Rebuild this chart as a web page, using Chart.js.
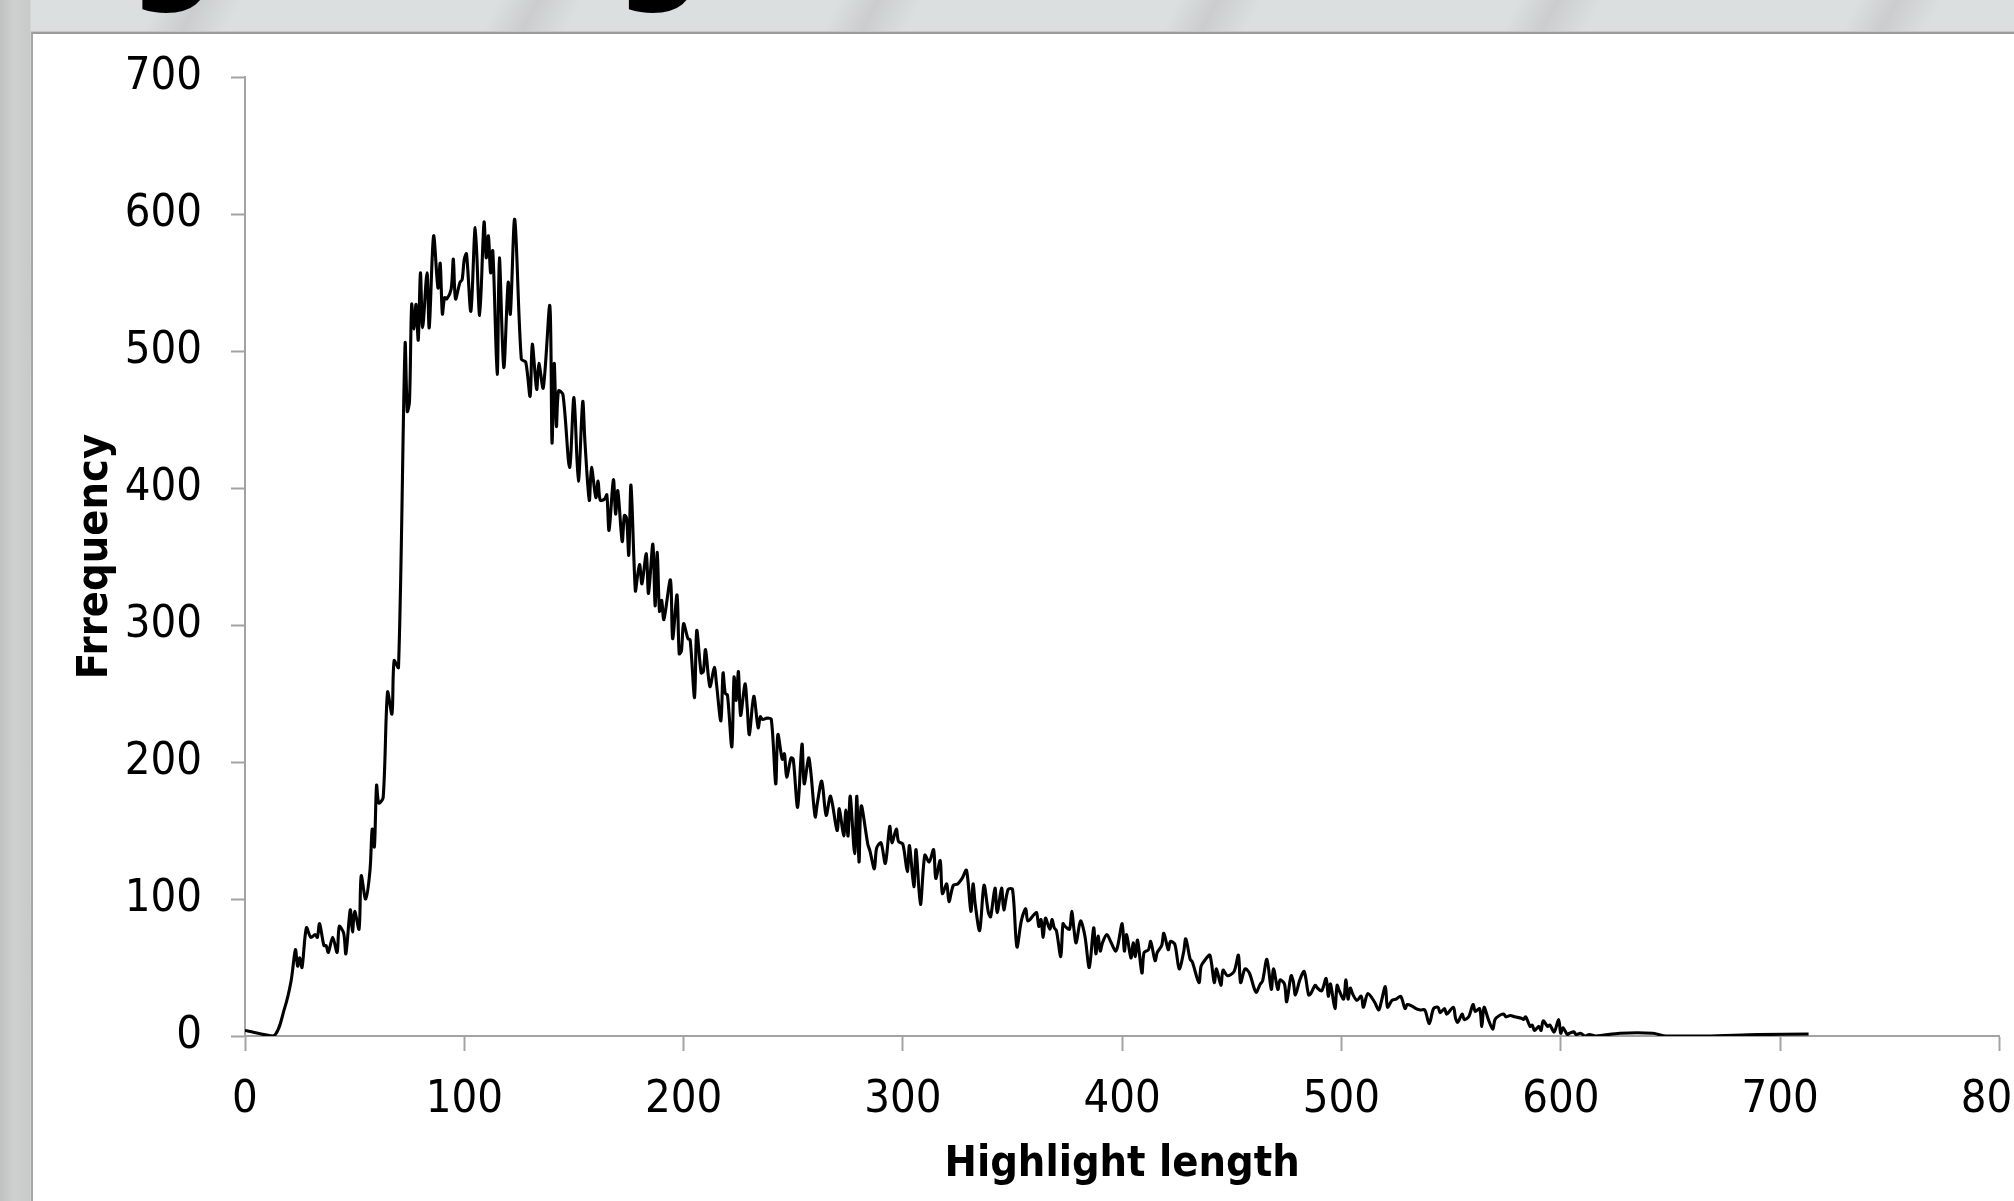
<!DOCTYPE html>
<html>
<head>
<meta charset="utf-8">
<title>Highlight length</title>
<script src="https://cdn.jsdelivr.net/npm/chart.js@4.4.0/dist/chart.umd.min.js"></script>
<style>
    html, body {
        margin: 0;
        padding: 0;
    }
    body {
        position: relative;
        width: 2014px;
        height: 1201px;
        overflow: hidden;
        background-color: #dcdfdf;
        background-image:
            linear-gradient(to right, #bfc0c0 0px, #cfd0d0 14px, #c8c9c9 30px, rgba(0,0,0,0) 31px),
            repeating-linear-gradient(118deg, rgba(0,0,0,0) 0px, rgba(0,0,0,0) 140px, rgba(0,0,0,0.08) 175px, rgba(0,0,0,0) 215px, rgba(0,0,0,0) 300px);
    }
    .slide-title {
        position: absolute;
        left: -273px;
        top: -116px;
        font: bold 122px/1 'DejaVu Sans', sans-serif;
        color: #000;
        white-space: nowrap;
    }
    .panel {
        position: absolute;
        left: 31px;
        top: 32px;
        right: 0;
        bottom: 0;
        background: #fff;
        border-top: 2px solid #9c9c9c;
        border-left: 2px solid #a6a6a6;
        box-shadow: 0 -1px 0 #c6c6c6;
    }
    #chart {
        position: absolute;
        left: 0;
        top: 0;
        width: 2060px;
        height: 1201px;
    }
</style>
</head>
<body>
<div class="slide-title">Highlight length</div>
<div class="panel"></div>
<canvas id="chart" width="2060" height="1201"></canvas>

<script>
(function () {
    'use strict';

    // --- Data ---
    const xTicks = [0, 100, 200, 300, 400, 500, 600, 700, 800];
    const yTicks = [0, 100, 200, 300, 400, 500, 600, 700];

    const lengths = [
        0, 13, 18, 21, 23, 24, 25, 26, 28, 30, 32, 33, 34, 36, 37, 38, 40, 42, 43, 45,
        46, 48, 49, 50, 52, 53, 55, 57, 58, 59, 60, 61, 63, 65, 67, 68, 70, 73, 74, 75,
        76, 77, 78, 79, 80, 81, 83, 84, 86, 88, 89, 90, 91, 92, 94, 95, 96, 98, 99, 100,
        101, 103, 105, 107, 109, 110, 111, 112, 113, 115, 116, 118, 120, 121, 123, 126, 128, 130, 131, 133,
        134, 136, 139, 140, 141, 142, 143, 145, 148, 150, 152, 154, 155, 157, 158, 160, 161, 162, 164, 165,
        166, 168, 169, 170, 172, 173, 174, 175, 176, 178, 179, 180, 181, 183, 184, 186, 187, 188, 189, 190,
        191, 194, 195, 197, 198, 199, 200, 202, 203, 205, 206, 208, 209, 210, 212, 214, 215, 217, 218, 219,
        220, 222, 223, 224, 225, 226, 228, 229, 230, 232, 234, 235, 236, 238, 240, 242, 243, 245, 246, 247,
        249, 250, 252, 254, 255, 257, 258, 260, 261, 263, 265, 267, 270, 271, 273, 274, 275, 276, 278, 279,
        280, 281, 284, 285, 287, 288, 290, 292, 294, 295, 297, 298, 300, 302, 303, 305, 306, 308, 310, 312,
        314, 315, 317, 318, 320, 321, 323, 325, 327, 329, 331, 332, 333, 335, 337, 339, 340, 342, 343, 345,
        346, 348, 350, 352, 354, 356, 357, 360, 361, 362, 363, 364, 365, 367, 368, 369, 370, 372, 373, 374,
        376, 377, 378, 379, 381, 383, 385, 387, 388, 389, 390, 391, 393, 395, 397, 398, 400, 401, 402, 404,
        405, 406, 407, 409, 410, 412, 413, 415, 416, 418, 419, 421, 422, 424, 426, 428, 429, 431, 432, 435,
        436, 438, 440, 442, 443, 445, 446, 448, 451, 453, 454, 456, 458, 461, 463, 464, 466, 468, 469, 471,
        472, 474, 475, 477, 478, 479, 481, 483, 485, 486, 488, 489, 491, 493, 494, 495, 497, 498, 499, 501,
        502, 503, 504, 505, 507, 509, 510, 512, 515, 517, 518, 520, 521, 523, 525, 527, 529, 530, 532, 534,
        536, 538, 540, 542, 544, 545, 547, 548, 551, 552, 553, 555, 556, 558, 560, 561, 563, 564, 565, 567,
        569, 570, 572, 574, 575, 577, 579, 582, 583, 584, 586, 587, 588, 590, 591, 592, 594, 595, 597, 599,
        600, 601, 603, 604, 606, 607, 609, 611, 613, 616, 627, 642, 648, 666, 690, 713
    ];

    const frequency = [
        4, 0, 20, 40, 63, 51, 57, 50, 79, 72, 74, 72, 82, 66, 66, 61, 72, 61, 80, 75,
        60, 92, 76, 91, 78, 117, 100, 121, 151, 138, 183, 170, 174, 251, 235, 274, 269, 505, 456, 463,
        534, 516, 534, 508, 557, 517, 557, 517, 584, 546, 564, 527, 539, 538, 545, 567, 538, 550, 552, 567,
        571, 529, 590, 526, 594, 568, 584, 557, 573, 483, 568, 488, 550, 527, 596, 494, 492, 467, 505, 472,
        491, 473, 533, 433, 491, 445, 471, 468, 415, 466, 405, 463, 434, 391, 415, 393, 405, 391, 392, 395,
        369, 406, 381, 398, 361, 380, 378, 351, 402, 325, 336, 344, 330, 352, 323, 359, 314, 353, 310, 318,
        304, 333, 290, 322, 279, 281, 301, 290, 289, 247, 296, 265, 266, 282, 255, 269, 257, 230, 265, 250,
        249, 211, 262, 245, 266, 234, 257, 240, 220, 248, 225, 233, 231, 232, 231, 184, 220, 202, 206, 189,
        203, 202, 167, 213, 184, 203, 193, 160, 170, 186, 161, 175, 150, 166, 146, 165, 146, 175, 133, 175,
        127, 168, 140, 135, 122, 137, 141, 126, 153, 141, 151, 142, 140, 120, 139, 109, 136, 96, 132, 127,
        136, 115, 128, 104, 111, 98, 110, 111, 115, 121, 91, 111, 96, 77, 110, 90, 87, 108, 90, 108,
        92, 107, 107, 65, 84, 93, 84, 89, 90, 80, 85, 72, 86, 78, 85, 79, 77, 58, 82, 80,
        78, 91, 78, 68, 84, 73, 50, 79, 60, 73, 62, 68, 74, 68, 62, 66, 82, 62, 74, 57,
        68, 58, 70, 46, 61, 63, 69, 55, 61, 66, 75, 63, 69, 67, 49, 61, 71, 56, 54, 39,
        51, 56, 59, 39, 49, 37, 48, 44, 47, 59, 39, 49, 46, 32, 38, 40, 56, 34, 49, 34,
        41, 38, 25, 44, 40, 30, 41, 47, 30, 31, 37, 35, 33, 42, 29, 38, 20, 37, 33, 27,
        41, 27, 35, 31, 26, 29, 21, 31, 25, 19, 24, 36, 21, 26, 27, 29, 20, 23, 22, 20,
        19, 19, 9, 20, 21, 17, 20, 16, 21, 13, 10, 16, 12, 14, 23, 18, 20, 7, 21, 12,
        5, 12, 15, 16, 14, 15, 14, 13, 12, 14, 7, 8, 4, 7, 4, 11, 7, 8, 3, 12,
        2, 6, 1, 2, 3, 1, 2, 0, 1, 0, 2, 2, 0, 0, 1, 1.5
    ];

    // --- Styles ---
    const AXIS_GRAY = '#a3a3a3';
    const TICK_FONT = { family: "'DejaVu Sans Condensed', 'DejaVu Sans', sans-serif", size: 45 };
    const TITLE_FONT = { family: "'DejaVu Sans Condensed', 'DejaVu Sans', sans-serif", size: 43, weight: 'bold', lineHeight: 1.2 };

    const points = lengths.map((len, i) => ({ x: len, y: frequency[i] }));

    const ctx = document.getElementById('chart');
    new Chart(ctx, {
        type: 'line',
        data: {
            datasets: [{
                label: 'Frrequency',
                data: points,
                borderColor: '#000',
                borderWidth: 3.1,
                pointRadius: 0,
                tension: 0.3,
                fill: false
            }]
        },
        options: {
            responsive: false,
            animation: false,
            devicePixelRatio: 1,
            layout: { padding: { top: 77, right: 57, bottom: 0, left: 0 } },
            plugins: {
                legend: { display: false },
                tooltip: { enabled: false }
            },
            scales: {
                x: {
                    type: 'linear',
                    min: xTicks[0],
                    max: xTicks[xTicks.length - 1],
                    afterBuildTicks: s => { s.ticks = xTicks.map(v => ({ value: v })); },
                    afterFit: s => { s.height = 165; },
                    grid: { drawOnChartArea: false, drawTicks: true, tickLength: 15, tickColor: AXIS_GRAY, tickWidth: 2 },
                    border: { display: true, color: AXIS_GRAY, width: 2 },
                    ticks: { color: '#000', font: TICK_FONT, padding: 22, maxRotation: 0, autoSkip: false },
                    title: { display: true, text: 'Highlight length', color: '#000', font: TITLE_FONT, padding: { top: 0, bottom: 10 } }
                },
                y: {
                    type: 'linear',
                    min: yTicks[0],
                    max: yTicks[yTicks.length - 1],
                    afterBuildTicks: s => { s.ticks = yTicks.map(v => ({ value: v })); },
                    afterFit: s => { s.width = 245; },
                    grid: { drawOnChartArea: false, drawTicks: true, tickLength: 14, tickColor: AXIS_GRAY, tickWidth: 2 },
                    border: { display: true, color: AXIS_GRAY, width: 2 },
                    ticks: { color: '#000', font: TICK_FONT, padding: 29, autoSkip: false },
                    title: { display: true, text: 'Frrequency', color: '#000', font: TITLE_FONT, padding: { top: 70, bottom: 0 } }
                }
            }
        }
    });
})();
</script>
</body>
</html>
